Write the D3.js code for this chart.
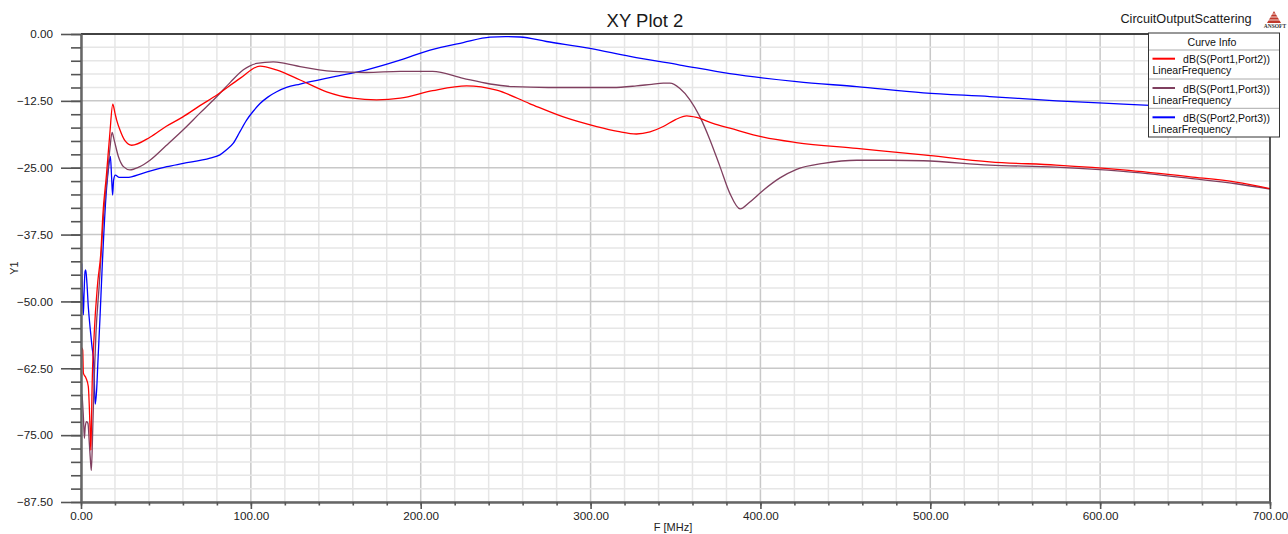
<!DOCTYPE html>
<html><head><meta charset="utf-8">
<script src="https://cdn.jsdelivr.net/npm/d3@7"></script>
<style>
html,body{margin:0;padding:0;background:#fff;}
text{font-family:"Liberation Sans",Arial,sans-serif;}
</style></head>
<body><svg id="c" width="1288" height="534"></svg>
<script>
// ---- data ----
const xTicks = [0,100,200,300,400,500,600,700];
const yTicks = [-87.5,-75,-62.5,-50,-37.5,-25,-12.5,0];
const seriesNames = ["dB(S(Port1,Port2))","dB(S(Port1,Port3))","dB(S(Port2,Port3))"];
const seriesColors = ["#ff0000","#7f3f5f","#0000ff"];

const freqS12 = [0.5,1.0,1.4,2.9,4.3,4.9,5.5,5.8,6.2,6.5,7.8,9.8,11.8,12.8,15,17,18.7,20,21,23,26,29.8,40.6,50,60,70,80,93.6,105.4,115,129,144.6,160,174,188,207,227,244.7,264,284,303.6,316,327,335,342.8,350,356.6,362.5,372,382,401.7,421,456.7,495.9,535,574,613.5,653,680,700];
const valS12  = [-58.7,-59.1,-63.4,-64.3,-65.9,-69.7,-75.3,-77.8,-72,-66.5,-55.9,-46.6,-40.4,-34.2,-26.3,-18.5,-13.1,-14.8,-16.1,-18.0,-20.0,-20.8,-19.3,-17.3,-15.5,-13.4,-11.4,-8.3,-6.0,-6.7,-8.6,-10.8,-12.0,-12.3,-12.0,-10.6,-9.7,-10.5,-13.0,-15.5,-17.3,-18.2,-18.7,-18.3,-17.3,-16.0,-15.3,-15.6,-16.7,-17.6,-19.3,-20.3,-21.4,-22.6,-23.9,-24.5,-25.4,-26.7,-27.7,-28.9];

const freqS13 = [0.6,1.4,2.0,2.5,3.3,4.1,4.9,5.7,6.1,6.9,7.8,8.8,10.8,12,13.7,15.7,17,18.3,19.5,22,25,28.8,34,40.6,50,60.2,70,80,88,95.6,103.4,113.2,120,129,148.5,168,188,207,225,240.8,254.5,275,297.7,313,327,336,342.8,346.7,352.6,358.5,364.4,370.3,376.2,382,388,393.8,401.7,411.5,421.3,437,456.7,476,496,535,574,613.6,653,680,700];
const valS13  = [-67.3,-71.5,-75.6,-73.4,-72.5,-72.8,-76.5,-80.3,-81.6,-74.0,-64.1,-56,-46.6,-40.4,-32.3,-26,-21.5,-18.4,-19.8,-22.9,-24.8,-25.4,-24.9,-23.6,-20.9,-17.9,-14.8,-11.7,-9.0,-6.7,-5.5,-5.2,-5.5,-6.1,-7.0,-7.2,-7.0,-7.0,-8.3,-9.35,-9.85,-10.0,-10.0,-10.0,-9.7,-9.4,-9.2,-9.2,-10.2,-12.3,-15.5,-19.8,-24.8,-29.8,-32.7,-31.4,-29.2,-26.9,-25.3,-24.2,-23.6,-23.6,-23.7,-24.5,-24.9,-25.7,-27.0,-28.0,-29.0];

const freqS23 = [0.4,1.0,1.4,1.8,2.4,2.8,3.5,4.3,5.3,6.5,7.5,8.0,8.4,9.2,10,11.2,12.4,14.7,16.3,17.3,18.0,18.6,19.2,20.2,22.5,26.9,36.7,50.5,60.2,76,81.8,85.5,89.7,93.5,97.5,101.5,105.4,110,115.2,121,129,148.5,168.2,187.8,205.5,225,240.8,250,258.5,274,299.7,323.2,352.6,382,421.3,456.7,495.9,535,574.4,613.6,660,700];
const valS23  = [-42.9,-49.7,-52.5,-48.5,-44.4,-44.1,-46.6,-51,-54.7,-58.5,-61.6,-66.6,-69.2,-66.6,-61,-52.9,-44.1,-30.4,-24.8,-22.9,-26.7,-30.1,-27.3,-26.4,-26.8,-26.8,-26.0,-24.8,-24.2,-23.2,-22.6,-21.7,-20.4,-18.3,-16.1,-14.4,-13.0,-11.8,-10.8,-10.0,-9.35,-8.0,-6.7,-4.9,-3.0,-1.6,-0.6,-0.5,-0.56,-1.4,-2.7,-4.2,-5.8,-7.4,-8.9,-9.85,-11.0,-11.7,-12.5,-13.1,-13.8,-14.4];

// ---- chart ----
const svg = d3.select("#c");
const L=81,R=1270,T=34,B=502;
const x = d3.scaleLinear().domain([0,700]).range([L,R]);
const y = d3.scaleLinear().domain([-87.5,0]).range([B,T]);

svg.append("rect").attr("width",1288).attr("height",534).attr("fill","#fff");

// grid
const g = svg.append("g");
const minorX = d3.range(0,701,20), minorY = d3.range(-87.5,0.001,2.5);
g.selectAll(".mx").data(minorX).join("line")
  .attr("x1",d=>x(d)).attr("x2",d=>x(d)).attr("y1",T).attr("y2",B)
  .attr("stroke",d=>d%100===0?"#c8c8c8":"#e6e6e6").attr("stroke-width",1.5);
g.selectAll(".my").data(minorY).join("line")
  .attr("y1",d=>y(d)).attr("y2",d=>y(d)).attr("x1",L).attr("x2",R)
  .attr("stroke",d=>Math.abs(d%12.5)<1e-6?"#c8c8c8":"#e6e6e6").attr("stroke-width",1.5);

// curves
const line = d3.line().x(d=>x(d[0])).y(d=>y(d[1])).curve(d3.curveMonotoneX);
const series = [
  d3.zip(freqS12,valS12),
  d3.zip(freqS13,valS13),
  d3.zip(freqS23,valS23)
];
svg.append("clipPath").attr("id","clip").append("rect").attr("x",L).attr("y",T).attr("width",R-L).attr("height",B-T);
const plot = svg.append("g").attr("clip-path","url(#clip)");
[2,1,0].forEach(i=>{
  plot.append("path").datum(series[i]).attr("d",line)
    .attr("fill","none").attr("stroke",seriesColors[i]).attr("stroke-width",1.3);
});

// frame top/right
svg.append("line").attr("x1",L).attr("x2",R).attr("y1",T).attr("y2",T).attr("stroke","#111").attr("stroke-width",1.3);
svg.append("line").attr("x1",R).attr("x2",R).attr("y1",T).attr("y2",B).attr("stroke","#111").attr("stroke-width",1.3);

// axes
const fmt = d3.format(".2f");
const yAx = svg.append("g").attr("transform",`translate(${L},0)`)
  .call(d3.axisLeft(y).tickValues(yTicks).tickFormat(fmt).tickSize(20).tickSizeOuter(0).tickPadding(8));
const yMin = svg.append("g").attr("transform",`translate(${L},0)`)
  .call(d3.axisLeft(y).tickValues(minorY).tickFormat("").tickSize(10).tickSizeOuter(0));
const xAx = svg.append("g").attr("transform",`translate(0,${B})`)
  .call(d3.axisBottom(x).tickValues(xTicks).tickFormat(fmt).tickSize(7).tickSizeOuter(0).tickPadding(2.5));
const xMin = svg.append("g").attr("transform",`translate(0,${B})`)
  .call(d3.axisBottom(x).tickValues(minorX).tickFormat("").tickSize(3.5).tickSizeOuter(0));
[yAx,yMin,xAx,xMin].forEach(a=>{
  a.select(".domain").attr("stroke","#666").attr("stroke-width",2);
  a.selectAll(".tick line").attr("stroke","#555").attr("stroke-width",1.6);
  a.selectAll(".tick text").attr("fill","#222").style("font-size","11.7px").style("font-family","'Liberation Sans',Arial,sans-serif");
});

// titles
svg.append("text").attr("x",645).attr("y",27).attr("text-anchor","middle").style("font-size","18.5px").attr("fill","#1a1a1a").text("XY Plot 2");
svg.append("text").attr("x",1186).attr("y",23).attr("text-anchor","middle").style("font-size","12.7px").attr("fill","#1a1a1a").text("CircuitOutputScattering");
svg.append("text").attr("x",673).attr("y",531).attr("text-anchor","middle").style("font-size","11px").attr("fill","#222").text("F [MHz]");
svg.append("text").attr("transform","translate(18,268) rotate(-90)").attr("text-anchor","middle").style("font-size","11px").attr("fill","#222").text("Y1");

// logo
const lg = svg.append("g");
lg.append("polygon").attr("points","1274,11 1267,23 1281,23").attr("fill","#c0392b");
[14,17,20].forEach(v=>lg.append("line").attr("x1",1264).attr("x2",1284).attr("y1",v).attr("y2",v).attr("stroke","#fff").attr("stroke-width",0.8));
lg.append("text").attr("x",1275).attr("y",27.5).attr("text-anchor","middle").style("font-size","5.5px").style("font-family","'Liberation Serif',serif").style("font-weight","bold").attr("fill","#333").text("ANSOFT");

// legend
const lgd = svg.append("g");
lgd.append("rect").attr("x",1148.5).attr("y",33).attr("width",131).attr("height",104).attr("fill","#fff").attr("stroke","#333").attr("stroke-width",1);
lgd.append("text").attr("x",1212).attr("y",45.5).attr("text-anchor","middle").style("font-size","10.6px").attr("fill","#111").text("Curve Info");
[50,79,108.3].forEach(v=>lgd.append("line").attr("x1",1149).attr("x2",1279).attr("y1",v).attr("y2",v).attr("stroke","#aaa").attr("stroke-width",1));
seriesNames.forEach((n,i)=>{
  const yy = 58.7 + i*29.3;
  lgd.append("line").attr("x1",1152.5).attr("x2",1175).attr("y1",yy).attr("y2",yy).attr("stroke",seriesColors[i]).attr("stroke-width",2);
  lgd.append("text").attr("x",1270).attr("y",yy+4.6).attr("text-anchor","end").style("font-size","10.5px").attr("fill","#111").text(n);
  lgd.append("text").attr("x",1152.5).attr("y",yy+15.6).style("font-size","10.5px").attr("fill","#111").text("LinearFrequency");
});
</script></body></html>
